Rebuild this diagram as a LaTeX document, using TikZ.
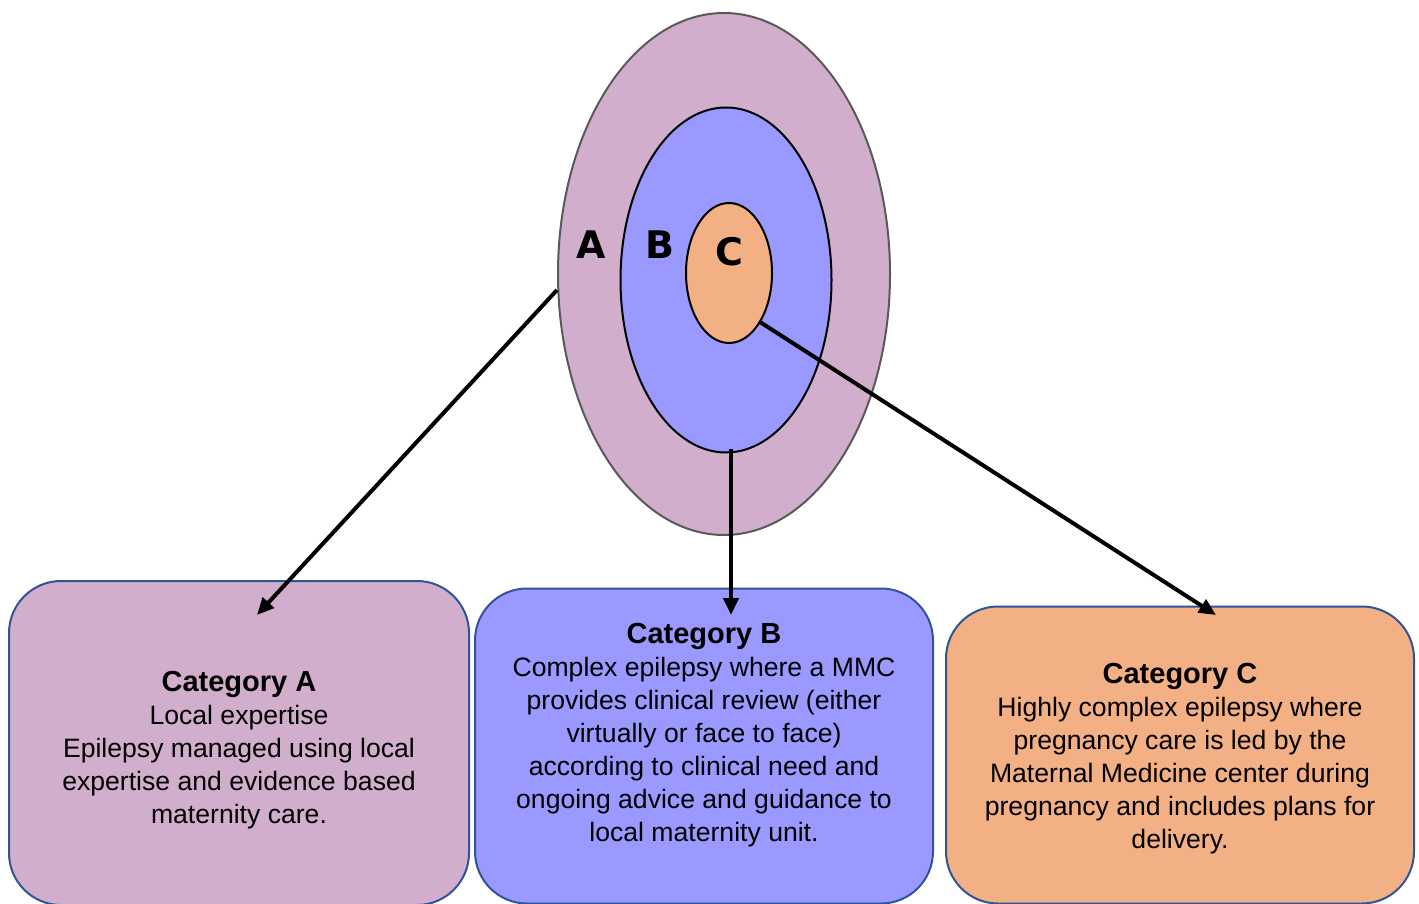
\documentclass[tikz,border=0pt]{standalone}
\usepackage{fontspec}
\setmainfont{Liberation Sans}
\newfontfamily\lblfont{DejaVu Sans}
\usetikzlibrary{shapes.geometric,arrows.meta}
\definecolor{cA}{HTML}{D1AFCC}
\definecolor{cB}{HTML}{9999FF}
\definecolor{cC}{HTML}{F3B084}
\definecolor{bordblue}{HTML}{2F5597}
\definecolor{ringgray}{HTML}{595959}
\newcommand{\cattitle}[1]{{\bfseries\fontsize{29pt}{33pt}\selectfont #1}}
\begin{document}
\begin{tikzpicture}[x=1pt,y=-1pt,
  ring/.style={ellipse, draw=black, line width=2pt, inner sep=0pt},
  catbox/.style={rectangle, rounded corners=52pt, draw=bordblue, line width=2pt, inner sep=0pt},
  body/.style={align=center, font=\fontsize{26.6pt}{33pt}\selectfont, inner sep=0pt},
  lbl/.style={font=\lblfont\bfseries\fontsize{38pt}{40pt}\selectfont, inner sep=0pt},
  link/.style={line width=4pt, -{Triangle[length=17pt,width=15pt]}}]
\useasboundingbox (0,0) rectangle (1419,904);
% rings
\node[ring, draw=ringgray, fill=cA, minimum width=332pt, minimum height=522pt] (outer) at (724,274) {};
\node[ring, fill=cB, minimum width=211pt, minimum height=345pt] (middle) at (726,280) {};
\node[ring, fill=cC, minimum width=86pt, minimum height=140pt] (inner) at (729,273) {};
% boxes
\node[catbox, fill=cA, minimum width=460pt, minimum height=324pt] (boxA) at (239,743) {};
\node[catbox, fill=cB, minimum width=458pt, minimum height=315pt] (boxB) at (704,746) {};
\node[catbox, fill=cC, minimum width=468pt, minimum height=297pt] (boxC) at (1180,755) {};
% texts
\node[body] (tA) at (239,750) {\cattitle{Category A}\\Local expertise\\Epilepsy managed using local\\expertise and evidence based\\maternity care.};
\node[body] (tB) at (704,735) {\cattitle{Category B}\\Complex epilepsy where a MMC\\provides clinical review (either\\virtually or face to face)\\according to clinical need and\\ongoing advice and guidance to\\local maternity unit.};
\node[body] (tC) at (1180,759) {\cattitle{Category C}\\Highly complex epilepsy where\\pregnancy care is led by the\\Maternal Medicine center during\\pregnancy and includes plans for\\delivery.};
% labels
\node[lbl] (lA) at (591,245) {A};
\node[lbl] (lB) at (660,245) {B};
\node[lbl] (lC) at (729,252) {C};
% connectors
\coordinate (a0) at (557,290);
\coordinate (a1) at (257,615);
\coordinate (b0) at (731,449);
\coordinate (b1) at (731,615);
\coordinate (c0) at (760,322);
\coordinate (c1) at (1216,615);
\draw[link] (a0) -- (a1);
\draw[link] (b0) -- (b1);
\draw[link] (c0) -- (c1);
\end{tikzpicture}
\end{document}
